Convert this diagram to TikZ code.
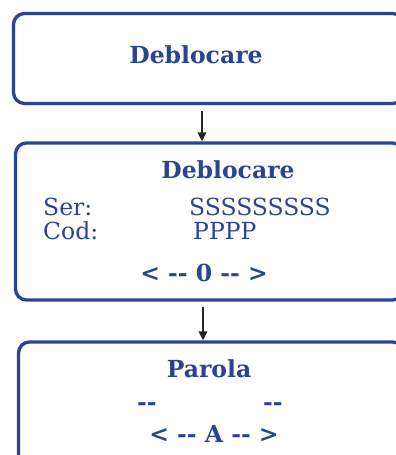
\documentclass[tikz,border=0pt]{standalone}
\usepackage{fontspec}
\setmainfont{DejaVu Serif}
\usetikzlibrary{arrows.meta}
\definecolor{dblue}{HTML}{2A4392}
\tikzset{
  panel/.style={draw=dblue, line width=3.3pt, rounded corners=11pt, inner sep=0pt},
  title/.style={text=dblue, font=\bfseries\fontsize{23.5}{28}\selectfont, anchor=base, inner sep=0pt},
  plain/.style={text=dblue, font=\fontsize{23.5}{28}\selectfont, anchor=base west, inner sep=0pt},
  arr/.style={draw=black!85, line width=1.8pt, -{Triangle[length=9pt,width=8.5pt]}}
}
\begin{document}
\begin{tikzpicture}[x=1pt,y=-1pt]
\useasboundingbox (0,0) rectangle (396,455);
\clip (0,0) rectangle (396,455);
% panels
\node[panel, minimum width=390pt, minimum height=90pt] (b1) at (208.5,58.5) {};
\node[panel, minimum width=388pt, minimum height=157pt] (b2) at (209.5,221.5) {};
\node[panel, minimum width=385pt, minimum height=125pt] (b3) at (211,404.5) {};
% panel 1 text
\node[title] (t1) at (196,63) {Deblocare};
% panel 2 text
\node[title] (t2) at (228,178) {Deblocare};
\node[plain] (ser) at (43,215) {Ser:};
\node[plain] (serv) at (189,215) {SSSSSSSSS};
\node[plain] (cod) at (43,239) {Cod:};
\node[plain] (codv) at (193,239) {PPPP};
\node[title] (nav1) at (204,281) {<\ -{}-\ 0\ -{}-\ >};
% panel 3 text
\node[title] (t3) at (209,377) {Parola};
\node[title, anchor=base west] (d1) at (137,410) {-{}-};
\node[title, anchor=base west] (d2) at (263,410) {-{}-};
\node[title] (nav2) at (214,442) {<\ -{}-\ A\ -{}-\ >};
% arrows
\coordinate (a1s) at ([xshift=-6.5pt,yshift=-6pt]b1.south);
\draw[arr] (a1s) -- (a1s |- b2.north);
\coordinate (a2s) at ([xshift=-6.5pt,yshift=-5pt]b2.south);
\draw[arr] (a2s) -- (a2s |- b3.north);
\end{tikzpicture}
\end{document}
